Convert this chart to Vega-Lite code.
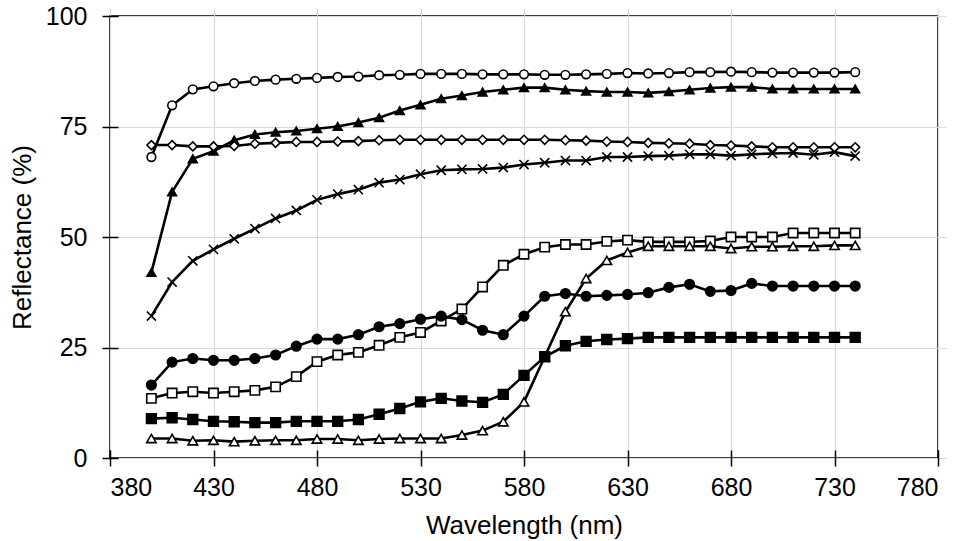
{
  "$schema": "https://vega.github.io/schema/vega-lite/v6.json",
  "autosize": {"type": "none"},
  "width": 828,
  "height": 442,
  "padding": {"left": 110, "top": 16, "right": 26, "bottom": 83},
  "background": "white",
  "config": {
    "view": {"stroke": "black", "strokeWidth": 1.6},
    "font": "Liberation Sans",
    "axis": {
      "domain": false,
      "grid": true,
      "gridColor": "#d9d9d9",
      "gridWidth": 1.2,
      "ticks": true,
      "tickColor": "black",
      "tickWidth": 1.5,
      "tickSize": 16,
      "offset": -8,
      "labelFont": "Liberation Sans",
      "labelFontSize": 25,
      "labelColor": "black",
      "titleFont": "Liberation Sans",
      "titleFontSize": 26,
      "titleFontWeight": "normal",
      "titleColor": "black"
    }
  },
  "data": {
    "values": [
      {"s":"A","w":400,"r":68.1},{"s":"A","w":410,"r":79.8},{"s":"A","w":420,"r":83.4},{"s":"A","w":430,"r":84.1},{"s":"A","w":440,"r":84.8},{"s":"A","w":450,"r":85.3},{"s":"A","w":460,"r":85.6},{"s":"A","w":470,"r":85.8},{"s":"A","w":480,"r":86.0},{"s":"A","w":490,"r":86.2},{"s":"A","w":500,"r":86.3},{"s":"A","w":510,"r":86.6},{"s":"A","w":520,"r":86.7},{"s":"A","w":530,"r":86.9},{"s":"A","w":540,"r":86.9},{"s":"A","w":550,"r":86.9},{"s":"A","w":560,"r":86.8},{"s":"A","w":570,"r":86.8},{"s":"A","w":580,"r":86.8},{"s":"A","w":590,"r":86.7},{"s":"A","w":600,"r":86.7},{"s":"A","w":610,"r":86.8},{"s":"A","w":620,"r":86.9},{"s":"A","w":630,"r":87.1},{"s":"A","w":640,"r":87.0},{"s":"A","w":650,"r":87.1},{"s":"A","w":660,"r":87.3},{"s":"A","w":670,"r":87.3},{"s":"A","w":680,"r":87.4},{"s":"A","w":690,"r":87.3},{"s":"A","w":700,"r":87.2},{"s":"A","w":710,"r":87.2},{"s":"A","w":720,"r":87.2},{"s":"A","w":730,"r":87.2},{"s":"A","w":740,"r":87.3},
      {"s":"B","w":400,"r":42.0},{"s":"B","w":410,"r":60.2},{"s":"B","w":420,"r":67.7},{"s":"B","w":430,"r":69.4},{"s":"B","w":440,"r":71.9},{"s":"B","w":450,"r":73.2},{"s":"B","w":460,"r":73.7},{"s":"B","w":470,"r":74.0},{"s":"B","w":480,"r":74.5},{"s":"B","w":490,"r":75.0},{"s":"B","w":500,"r":75.9},{"s":"B","w":510,"r":77.0},{"s":"B","w":520,"r":78.6},{"s":"B","w":530,"r":79.9},{"s":"B","w":540,"r":81.3},{"s":"B","w":550,"r":82.0},{"s":"B","w":560,"r":82.8},{"s":"B","w":570,"r":83.3},{"s":"B","w":580,"r":83.8},{"s":"B","w":590,"r":83.8},{"s":"B","w":600,"r":83.3},{"s":"B","w":610,"r":83.0},{"s":"B","w":620,"r":82.8},{"s":"B","w":630,"r":82.8},{"s":"B","w":640,"r":82.6},{"s":"B","w":650,"r":82.9},{"s":"B","w":660,"r":83.3},{"s":"B","w":670,"r":83.7},{"s":"B","w":680,"r":83.9},{"s":"B","w":690,"r":83.9},{"s":"B","w":700,"r":83.5},{"s":"B","w":710,"r":83.5},{"s":"B","w":720,"r":83.5},{"s":"B","w":730,"r":83.5},{"s":"B","w":740,"r":83.5},
      {"s":"C","w":400,"r":70.8},{"s":"C","w":410,"r":70.8},{"s":"C","w":420,"r":70.5},{"s":"C","w":430,"r":70.5},{"s":"C","w":440,"r":70.6},{"s":"C","w":450,"r":71.1},{"s":"C","w":460,"r":71.3},{"s":"C","w":470,"r":71.5},{"s":"C","w":480,"r":71.5},{"s":"C","w":490,"r":71.6},{"s":"C","w":500,"r":71.7},{"s":"C","w":510,"r":71.9},{"s":"C","w":520,"r":72.0},{"s":"C","w":530,"r":72.0},{"s":"C","w":540,"r":72.0},{"s":"C","w":550,"r":72.0},{"s":"C","w":560,"r":72.0},{"s":"C","w":570,"r":72.0},{"s":"C","w":580,"r":72.0},{"s":"C","w":590,"r":72.0},{"s":"C","w":600,"r":71.9},{"s":"C","w":610,"r":71.8},{"s":"C","w":620,"r":71.6},{"s":"C","w":630,"r":71.5},{"s":"C","w":640,"r":71.3},{"s":"C","w":650,"r":71.2},{"s":"C","w":660,"r":71.1},{"s":"C","w":670,"r":70.8},{"s":"C","w":680,"r":70.7},{"s":"C","w":690,"r":70.5},{"s":"C","w":700,"r":70.3},{"s":"C","w":710,"r":70.3},{"s":"C","w":720,"r":70.3},{"s":"C","w":730,"r":70.3},{"s":"C","w":740,"r":70.3},
      {"s":"D","w":400,"r":32.1},{"s":"D","w":410,"r":39.8},{"s":"D","w":420,"r":44.6},{"s":"D","w":430,"r":47.2},{"s":"D","w":440,"r":49.6},{"s":"D","w":450,"r":51.9},{"s":"D","w":460,"r":54.2},{"s":"D","w":470,"r":56.0},{"s":"D","w":480,"r":58.4},{"s":"D","w":490,"r":59.7},{"s":"D","w":500,"r":60.7},{"s":"D","w":510,"r":62.3},{"s":"D","w":520,"r":63.0},{"s":"D","w":530,"r":64.2},{"s":"D","w":540,"r":65.1},{"s":"D","w":550,"r":65.3},{"s":"D","w":560,"r":65.4},{"s":"D","w":570,"r":65.7},{"s":"D","w":580,"r":66.4},{"s":"D","w":590,"r":66.8},{"s":"D","w":600,"r":67.3},{"s":"D","w":610,"r":67.3},{"s":"D","w":620,"r":68.1},{"s":"D","w":630,"r":68.1},{"s":"D","w":640,"r":68.3},{"s":"D","w":650,"r":68.4},{"s":"D","w":660,"r":68.7},{"s":"D","w":670,"r":68.7},{"s":"D","w":680,"r":68.4},{"s":"D","w":690,"r":68.7},{"s":"D","w":700,"r":68.9},{"s":"D","w":710,"r":69.0},{"s":"D","w":720,"r":68.6},{"s":"D","w":730,"r":69.2},{"s":"D","w":740,"r":68.3},
      {"s":"E","w":400,"r":13.5},{"s":"E","w":410,"r":14.7},{"s":"E","w":420,"r":15.0},{"s":"E","w":430,"r":14.7},{"s":"E","w":440,"r":15.0},{"s":"E","w":450,"r":15.3},{"s":"E","w":460,"r":16.1},{"s":"E","w":470,"r":18.4},{"s":"E","w":480,"r":21.8},{"s":"E","w":490,"r":23.3},{"s":"E","w":500,"r":23.9},{"s":"E","w":510,"r":25.5},{"s":"E","w":520,"r":27.3},{"s":"E","w":530,"r":28.4},{"s":"E","w":540,"r":31.0},{"s":"E","w":550,"r":33.7},{"s":"E","w":560,"r":38.7},{"s":"E","w":570,"r":43.6},{"s":"E","w":580,"r":46.1},{"s":"E","w":590,"r":47.7},{"s":"E","w":600,"r":48.3},{"s":"E","w":610,"r":48.3},{"s":"E","w":620,"r":49.0},{"s":"E","w":630,"r":49.3},{"s":"E","w":640,"r":48.9},{"s":"E","w":650,"r":48.9},{"s":"E","w":660,"r":48.9},{"s":"E","w":670,"r":49.1},{"s":"E","w":680,"r":50.0},{"s":"E","w":690,"r":50.0},{"s":"E","w":700,"r":50.0},{"s":"E","w":710,"r":50.9},{"s":"E","w":720,"r":50.9},{"s":"E","w":730,"r":50.9},{"s":"E","w":740,"r":50.9},
      {"s":"F","w":400,"r":4.4},{"s":"F","w":410,"r":4.4},{"s":"F","w":420,"r":3.9},{"s":"F","w":430,"r":4.0},{"s":"F","w":440,"r":3.7},{"s":"F","w":450,"r":3.9},{"s":"F","w":460,"r":4.0},{"s":"F","w":470,"r":4.0},{"s":"F","w":480,"r":4.3},{"s":"F","w":490,"r":4.3},{"s":"F","w":500,"r":4.0},{"s":"F","w":510,"r":4.3},{"s":"F","w":520,"r":4.4},{"s":"F","w":530,"r":4.4},{"s":"F","w":540,"r":4.4},{"s":"F","w":550,"r":5.2},{"s":"F","w":560,"r":6.2},{"s":"F","w":570,"r":8.2},{"s":"F","w":580,"r":12.7},{"s":"F","w":590,"r":22.9},{"s":"F","w":600,"r":33.1},{"s":"F","w":610,"r":40.6},{"s":"F","w":620,"r":44.7},{"s":"F","w":630,"r":46.5},{"s":"F","w":640,"r":47.9},{"s":"F","w":650,"r":47.9},{"s":"F","w":660,"r":47.9},{"s":"F","w":670,"r":47.9},{"s":"F","w":680,"r":47.4},{"s":"F","w":690,"r":47.8},{"s":"F","w":700,"r":47.8},{"s":"F","w":710,"r":47.9},{"s":"F","w":720,"r":47.9},{"s":"F","w":730,"r":48.1},{"s":"F","w":740,"r":48.1},
      {"s":"G","w":400,"r":16.5},{"s":"G","w":410,"r":21.7},{"s":"G","w":420,"r":22.5},{"s":"G","w":430,"r":22.1},{"s":"G","w":440,"r":22.1},{"s":"G","w":450,"r":22.5},{"s":"G","w":460,"r":23.3},{"s":"G","w":470,"r":25.3},{"s":"G","w":480,"r":26.9},{"s":"G","w":490,"r":26.9},{"s":"G","w":500,"r":27.9},{"s":"G","w":510,"r":29.7},{"s":"G","w":520,"r":30.4},{"s":"G","w":530,"r":31.4},{"s":"G","w":540,"r":32.1},{"s":"G","w":550,"r":31.3},{"s":"G","w":560,"r":28.9},{"s":"G","w":570,"r":27.9},{"s":"G","w":580,"r":32.1},{"s":"G","w":590,"r":36.6},{"s":"G","w":600,"r":37.2},{"s":"G","w":610,"r":36.6},{"s":"G","w":620,"r":36.8},{"s":"G","w":630,"r":37.0},{"s":"G","w":640,"r":37.4},{"s":"G","w":650,"r":38.6},{"s":"G","w":660,"r":39.3},{"s":"G","w":670,"r":37.7},{"s":"G","w":680,"r":37.9},{"s":"G","w":690,"r":39.5},{"s":"G","w":700,"r":38.9},{"s":"G","w":710,"r":38.9},{"s":"G","w":720,"r":38.9},{"s":"G","w":730,"r":38.9},{"s":"G","w":740,"r":38.9},
      {"s":"H","w":400,"r":8.9},{"s":"H","w":410,"r":9.1},{"s":"H","w":420,"r":8.7},{"s":"H","w":430,"r":8.3},{"s":"H","w":440,"r":8.2},{"s":"H","w":450,"r":8.0},{"s":"H","w":460,"r":8.0},{"s":"H","w":470,"r":8.3},{"s":"H","w":480,"r":8.3},{"s":"H","w":490,"r":8.3},{"s":"H","w":500,"r":8.7},{"s":"H","w":510,"r":9.9},{"s":"H","w":520,"r":11.2},{"s":"H","w":530,"r":12.7},{"s":"H","w":540,"r":13.5},{"s":"H","w":550,"r":12.9},{"s":"H","w":560,"r":12.6},{"s":"H","w":570,"r":14.4},{"s":"H","w":580,"r":18.7},{"s":"H","w":590,"r":22.9},{"s":"H","w":600,"r":25.4},{"s":"H","w":610,"r":26.4},{"s":"H","w":620,"r":26.8},{"s":"H","w":630,"r":27.0},{"s":"H","w":640,"r":27.3},{"s":"H","w":650,"r":27.3},{"s":"H","w":660,"r":27.3},{"s":"H","w":670,"r":27.3},{"s":"H","w":680,"r":27.3},{"s":"H","w":690,"r":27.3},{"s":"H","w":700,"r":27.3},{"s":"H","w":710,"r":27.3},{"s":"H","w":720,"r":27.3},{"s":"H","w":730,"r":27.3},{"s":"H","w":740,"r":27.3}
    ]
  },
  "encoding": {
    "x": {
      "field": "w", "type": "quantitative",
      "scale": {"domain": [380, 780], "nice": false, "zero": false},
      "axis": {"title": "Wavelength (nm)", "values": [380, 430, 480, 530, 580, 630, 680, 730, 780], "labelPadding": 9, "titlePadding": 12}
    },
    "y": {
      "field": "r", "type": "quantitative",
      "scale": {"domain": [0, 100], "nice": false},
      "axis": {"title": "Reflectance (%)", "values": [0, 25, 50, 75, 100], "labelPadding": 15, "titlePadding": 10}
    }
  },
  "layer": [
    {
      "mark": {"type": "line", "color": "black", "strokeWidth": 2.6},
      "encoding": {"detail": {"field": "s"}}
    },
    {
      "mark": {"type": "point", "filled": true, "stroke": "black", "strokeWidth": 1.6, "opacity": 1},
      "encoding": {
        "shape": {"field": "s", "legend": null, "scale": {"domain": ["A","B","C","D","E","F","G","H"], "range": ["circle","triangle-up","diamond","M-1,-1L1,1M-1,1L1,-1","square","triangle-up","circle","square"]}},
        "fill": {"field": "s", "legend": null, "scale": {"domain": ["A","B","C","D","E","F","G","H"], "range": ["white","black","white","transparent","white","white","black","black"]}},
        "size": {"field": "s", "type": "nominal", "legend": null, "scale": {"domain": ["A","B","C","D","E","F","G","H"], "range": [75, 95, 62, 120, 85, 95, 75, 85]}}
      }
    }
  ]
}
